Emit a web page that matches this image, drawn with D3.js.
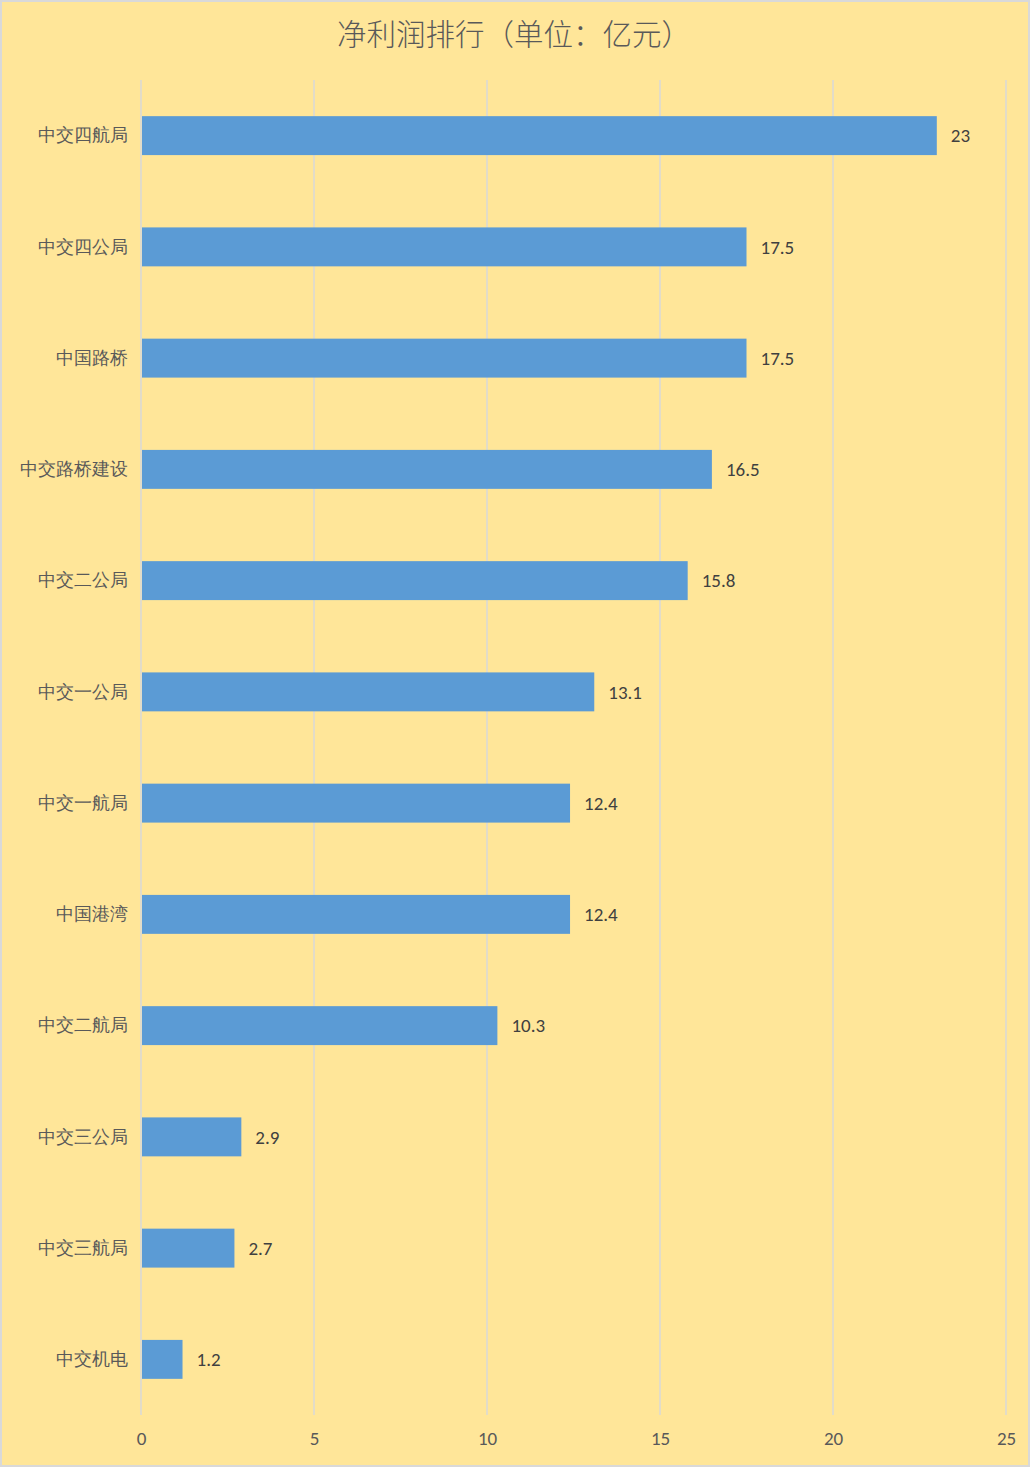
<!DOCTYPE html>
<html>
<head>
<meta charset="utf-8">
<script src="https://cdn.jsdelivr.net/npm/d3@7"></script>
<style>
  body { margin: 0; background: #fff; }
  svg { display: block; font-family: "Microsoft YaHei", "Noto Sans CJK SC", sans-serif; }
</style>
</head>
<body>
<div class="chart"></div>
<script>
// categories top to bottom, values in 亿元
const companies = ['中交四航局', '中交四公局', '中国路桥', '中交路桥建设', '中交二公局', '中交一公局',
    '中交一航局', '中国港湾', '中交二航局', '中交三公局', '中交三航局', '中交机电']
const profits = [23, 17.5, 17.5, 16.5, 15.8, 13.1, 12.4, 12.4, 10.3, 2.9, 2.7, 1.2]
const xTicks = [0, 5, 10, 15, 20, 25]

const width = 1030
const height = 1467
const margin = { top: 80, right: 24, bottom: 52, left: 141 }
const numFont = 'Calibri, Carlito, "Liberation Sans", sans-serif'

const svg = d3.select('.chart')
    .append('svg')
    .attr('width', width)
    .attr('height', height)

// background with thin grey frame
svg.append('rect')
    .attr('x', 1).attr('y', 1)
    .attr('width', width - 2).attr('height', height - 2)
    .style('fill', '#FFE699')
    .style('stroke', '#D9D9D9')
    .style('stroke-width', 2)

svg.append('text')
    .attr('x', width / 2 - 1)
    .attr('y', 45)
    .attr('text-anchor', 'middle')
    .style('font-size', '29.5px')
    .style('font-weight', '300')
    .style('fill', '#595959')
    .text('净利润排行（单位：亿元）')

const x = d3.scaleLinear()
    .domain([0, 25])
    .range([margin.left, 1006])

const y = d3.scaleBand()
    .domain(companies)
    .range([margin.top, height - margin.bottom])
    .paddingInner(0.65)
    .paddingOuter(0.325)

// vertical gridlines
svg.append('g')
    .selectAll('line')
    .data(xTicks)
    .enter()
    .append('line')
    .attr('x1', d => x(d)).attr('x2', d => x(d))
    .attr('y1', margin.top).attr('y2', height - margin.bottom)
    .style('stroke', '#D9D9D9')
    .style('stroke-width', 1.5)

// x axis labels
const xAxis = svg.append('g')
    .attr('transform', `translate(0,${height - margin.bottom})`)
    .call(d3.axisBottom(x).tickValues(xTicks).tickSize(0).tickPadding(17))
xAxis.select('.domain').remove()
xAxis.selectAll('text')
    .style('font-size', '19px')
    .style('font-family', numFont)
    .style('fill', '#595959')

// y axis labels
const yAxis = svg.append('g')
    .attr('transform', `translate(${margin.left},0)`)
    .call(d3.axisLeft(y).tickSize(0).tickPadding(13))
yAxis.select('.domain').remove()
yAxis.selectAll('text')
    .style('font-size', '18px')
    .style('fill', '#595959')

// bars
svg.append('g')
    .selectAll('rect')
    .data(companies)
    .enter()
    .append('rect')
    .attr('x', x(0) + 1)
    .attr('y', d => y(d))
    .attr('width', (d, i) => x(profits[i]) - x(0) - 1)
    .attr('height', y.bandwidth())
    .style('fill', '#5B9BD5')

// value labels
svg.append('g')
    .selectAll('text')
    .data(companies)
    .enter()
    .append('text')
    .attr('x', (d, i) => x(profits[i]) + 14)
    .attr('y', d => y(d) + y.bandwidth() / 2)
    .attr('dy', '0.35em')
    .style('font-size', '19px')
    .style('font-family', numFont)
    .style('fill', '#404040')
    .text((d, i) => profits[i])
</script>
</body>
</html>
